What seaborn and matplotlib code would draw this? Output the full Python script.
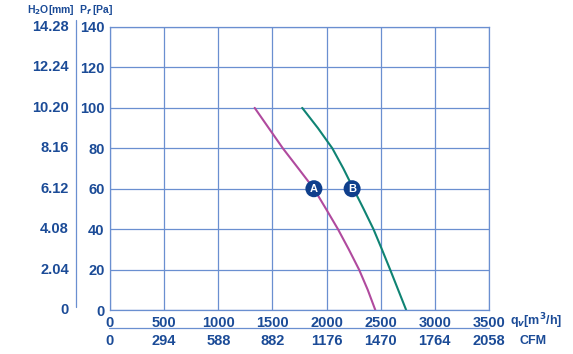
import matplotlib
matplotlib.use("Agg")
import matplotlib.pyplot as plt
from matplotlib.lines import Line2D
import seaborn as sns
import pandas as pd

# fan curves, pressure [Pa] vs airflow [m3/h]
pa_levels = [100, 90, 80, 70, 60, 50, 40, 30, 20, 10, 0]
flow_a = [1336, 1466, 1596, 1740, 1883, 1995, 2105, 2205, 2300, 2380, 2450]
flow_b = [1775, 1920, 2053, 2155, 2248, 2342, 2433, 2511, 2587, 2661, 2735]

x_ticks = [0, 500, 1000, 1500, 2000, 2500, 3000, 3500]
cfm_labels = ["0", "294", "588", "882", "1176", "1470", "1764", "2058"]
y_ticks = [0, 20, 40, 60, 80, 100, 120, 140]
mm_labels = ["0", "2.04", "4.08", "6.12", "8.16", "10.20", "12.24", "14.28"]

# curve labels (flow, pressure)
tag_a = ("A", 1883, 60)
tag_b = ("B", 2236, 60)

txt = "#1b4b97"
grid_c = "#6a8fd0"
col_a = "#b04a9e"
col_b = "#0f8373"

sns.set_style("white")
plt.rcParams["font.family"] = ["Liberation Sans", "DejaVu Sans"]
plt.rcParams["font.weight"] = "bold"

fig = plt.figure(figsize=(5.73, 3.54), dpi=100)
ax = fig.add_axes([110 / 573, 44 / 354, 379 / 573, 283 / 354])

df = pd.DataFrame({
    "flow": flow_a + flow_b,
    "pa": pa_levels + pa_levels,
    "curve": ["A"] * len(flow_a) + ["B"] * len(flow_b),
})
sns.lineplot(data=df, x="flow", y="pa", hue="curve", palette=[col_a, col_b],
             sort=False, estimator=None, linewidth=1.5, legend=False, ax=ax)

ax.set_xlim(0, 3500)
ax.set_ylim(0, 140)
ax.set_xticks(x_ticks)
ax.set_yticks(y_ticks)
ax.set_xticks([250 + 500 * i for i in range(7)], minor=True)
ax.set_yticks([10 + 20 * i for i in range(7)], minor=True)
ax.set_xticklabels([str(v) for v in x_ticks], color=txt, fontsize=10.5,
                   fontweight="bold")
ax.set_yticklabels([str(v) for v in y_ticks], color=txt, fontsize=10.5,
                   fontweight="bold")
ax.tick_params(which="major", length=0, pad=4)
ax.tick_params(which="minor", direction="in", length=3, color=grid_c, width=0.8)
ax.grid(True, which="major", color=grid_c, linewidth=0.9)
for s in ax.spines.values():
    s.set_color(grid_c)
    s.set_linewidth(0.9)
ax.set_xlabel("")
ax.set_ylabel("")

for lab, fx, fy in (tag_a, tag_b):
    ax.scatter([fx], [fy], s=150, color="#0f3f8c", zorder=5, edgecolors="none")
    ax.text(fx, fy, lab, color="white", fontsize=8, fontweight="bold",
            ha="center", va="center", zorder=6)

# H2O column
for y, lab in zip(y_ticks, mm_labels):
    ax.annotate(lab, xy=(0, y), xycoords=("axes fraction", "data"),
                xytext=(-41, 0), textcoords="offset pixels",
                ha="right", va="center", color=txt, fontsize=10.5,
                fontweight="bold", annotation_clip=False)

# CFM row
for x, lab in zip(x_ticks, cfm_labels):
    ax.annotate(lab, xy=(x, 0), xycoords=("data", "axes fraction"),
                xytext=(0, -31), textcoords="offset pixels",
                ha="center", va="center", color=txt, fontsize=10.5,
                fontweight="bold", annotation_clip=False)

fig.text(27 / 573, 1 - 10 / 354, "H$_2$O[mm]", color=txt, fontsize=7.5,
         ha="left", va="center")
fig.text(79 / 573, 1 - 10 / 354, "P$_f$ [Pa]", color=txt, fontsize=7.5,
         ha="left", va="center")
fig.text(510 / 573, 1 - 321 / 354, "q$_v$[m$^3$/h]", color=txt, fontsize=9,
         ha="left", va="center")
fig.text(519 / 573, 1 - 341 / 354, "CFM", color=txt, fontsize=9,
         ha="left", va="center")

fig.add_artist(Line2D([76 / 573, 76 / 573], [1 - 307 / 354, 1 - 20 / 354],
                      color=grid_c, linewidth=0.9))
fig.add_artist(Line2D([109 / 573, 489 / 573], [1 - 328 / 354, 1 - 328 / 354],
                      color=grid_c, linewidth=0.9))

fig.savefig("out.png", dpi=100)
